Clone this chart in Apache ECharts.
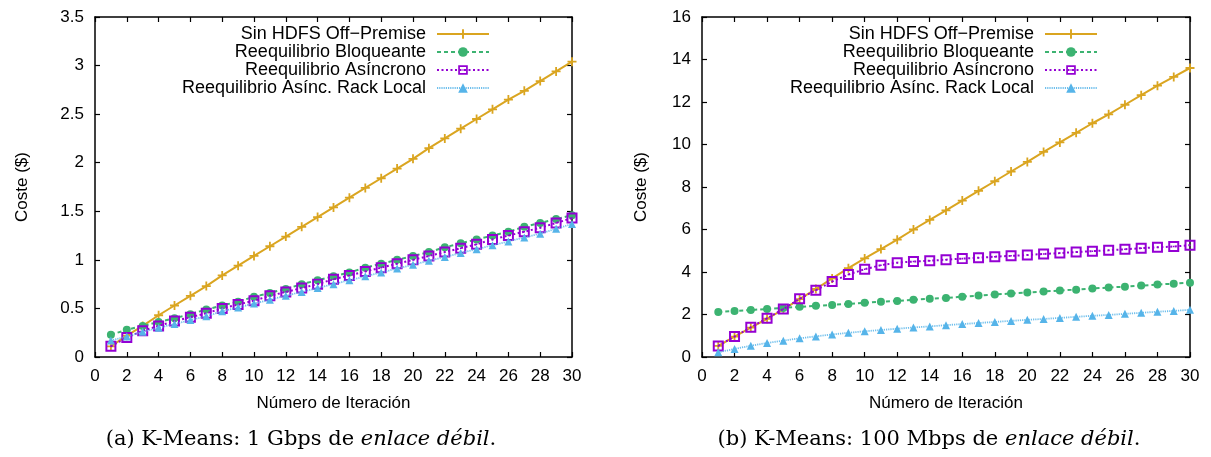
<!DOCTYPE html>
<html>
<head>
<meta charset="utf-8">
<script src="https://cdn.jsdelivr.net/npm/echarts@6/dist/echarts.min.js"></script>
<style>
html,body{margin:0;padding:0;background:#fff;}
#c{width:1211px;height:457px;}
</style>
</head>
<body>
<div id="c"></div>
<script>
const iterations = [1,2,3,4,5,6,7,8,9,10,11,12,13,14,15,16,17,18,19,20,21,22,23,24,25,26,27,28,29,30];
const seriesNames = ['Sin HDFS Off\u2212Premise','Reequilibrio Bloqueante','Reequilibrio Asíncrono','Reequilibrio Asínc. Rack Local'];

// (a) K-Means: 1 Gbps
const aSinHDFS    = [0.11,0.22,0.32,0.43,0.53,0.63,0.73,0.84,0.94,1.04,1.14,1.24,1.34,1.44,1.54,1.64,1.74,1.84,1.94,2.04,2.15,2.25,2.35,2.45,2.55,2.65,2.74,2.84,2.94,3.04];
const aBloqueante = [0.23,0.28,0.32,0.36,0.40,0.44,0.49,0.53,0.57,0.62,0.66,0.70,0.75,0.79,0.83,0.87,0.92,0.96,1.00,1.04,1.08,1.13,1.17,1.21,1.25,1.29,1.34,1.38,1.42,1.46];
const aAsincrono  = [0.11,0.20,0.27,0.32,0.37,0.41,0.45,0.50,0.54,0.58,0.63,0.67,0.71,0.75,0.80,0.84,0.88,0.92,0.96,1.00,1.04,1.08,1.12,1.16,1.21,1.25,1.29,1.33,1.38,1.43];
const aRackLocal  = [0.17,0.21,0.26,0.30,0.34,0.38,0.42,0.47,0.51,0.55,0.59,0.63,0.67,0.71,0.75,0.79,0.83,0.87,0.91,0.95,0.99,1.03,1.07,1.11,1.15,1.19,1.23,1.27,1.32,1.37];

// (b) K-Means: 100 Mbps
const bSinHDFS    = [0.52,0.96,1.38,1.80,2.24,2.72,3.20,3.70,4.18,4.64,5.08,5.52,6.00,6.45,6.90,7.36,7.82,8.27,8.73,9.18,9.65,10.10,10.55,11.00,11.42,11.87,12.32,12.77,13.18,13.60];
const bBloqueante = [2.12,2.17,2.21,2.26,2.31,2.36,2.41,2.45,2.50,2.55,2.60,2.64,2.69,2.74,2.78,2.84,2.89,2.94,2.99,3.03,3.08,3.13,3.17,3.22,3.27,3.31,3.36,3.41,3.45,3.50];
const bAsincrono  = [0.52,0.96,1.40,1.82,2.26,2.74,3.14,3.55,3.88,4.13,4.32,4.44,4.49,4.53,4.58,4.63,4.67,4.72,4.76,4.80,4.85,4.89,4.94,4.98,5.02,5.07,5.12,5.16,5.20,5.26];
const bRackLocal  = [0.22,0.38,0.53,0.66,0.77,0.88,0.97,1.06,1.14,1.21,1.27,1.33,1.39,1.44,1.50,1.55,1.60,1.65,1.70,1.75,1.79,1.84,1.89,1.94,1.98,2.03,2.08,2.13,2.17,2.22];

const xTicks = {min:0, max:30, interval:2};
const yTicksA = {min:0, max:3.5, interval:0.5};
const yTicksB = {min:0, max:16, interval:2};
const xAxisName = 'Número de Iteración';
const yAxisName = 'Coste ($)';
const captionA = ['(a) K-Means: 1 Gbps de ', 'enlace débil', '.'];
const captionB = ['(b) K-Means: 100 Mbps de ', 'enlace débil', '.'];

const FONT = "'Liberation Sans', Arial, Helvetica, sans-serif";
const colors = ['#DAA520', '#3CB371', '#9400D3', '#56B4E9'];
const plusPath = 'path://M-1,-5H1V-1H5V1H1V5H-1V1H-5V-1H-1Z';
const squarePath = 'path://M0,0H10V10H0Z M1.8,1.8V8.2H8.2V1.8Z M4.3,4.3H5.7V5.7H4.3Z';
const symbols = [plusPath, 'circle', squarePath, 'triangle'];
const symbolSizes = [9, 8, 11, 8];
const lineTypes = ['solid', [4,3], [2,2.5], [1.2,1]];

function pairs(ys){ return iterations.map((x,i)=>[x, ys[i]]); }

function axesFor(gi, yt){
  const common = {
    type:'value', gridIndex:gi, splitLine:{show:false},
    axisLine:{show:true, onZero:false, lineStyle:{color:'#000', width:1.5}},
    axisTick:{show:true, inside:true, length:5, lineStyle:{color:'#000', width:1.2}}
  };
  const xs = [
    Object.assign({}, common, xTicks, {position:'bottom',
      name:xAxisName, nameLocation:'middle', nameGap:38,
      nameTextStyle:{fontFamily:FONT, fontSize:17, color:'#000'},
      axisLabel:{fontFamily:FONT, fontSize:17, color:'#000', margin:11}}),
    Object.assign({}, common, xTicks, {position:'top', axisLabel:{show:false}})
  ];
  const ys = [
    Object.assign({}, common, yt, {position:'left',
      name:yAxisName, nameLocation:'middle', nameGap: gi===0 ? 64 : 52,
      nameTextStyle:{fontFamily:FONT, fontSize:17, color:'#000'},
      axisLabel:{fontFamily:FONT, fontSize:17, color:'#000', margin:11}}),
    Object.assign({}, common, yt, {position:'right', axisLabel:{show:false}})
  ];
  return {xs, ys};
}

const A = axesFor(0, yTicksA);
const B = axesFor(1, yTicksB);

function makeSeries(gi, datasets){
  return datasets.map((d,k)=>({
    name: seriesNames[k], type:'line', xAxisIndex: gi*2, yAxisIndex: gi*2,
    data: pairs(d), symbol: symbols[k], symbolSize: symbolSizes[k],
    clip:false, z: 2+k,
    lineStyle:{color: colors[k], width: k===3 ? 1.8 : 2, type: lineTypes[k], opacity: k===3 ? 0.85 : 1},
    itemStyle:{color: colors[k]}
  }));
}

function legendFor(rightPx){
  return {
    orient:'vertical', right: rightPx, top: 20, align:'right',
    itemWidth: 52, itemHeight: 12, itemGap: 0, selectedMode:false,
    textStyle:{fontFamily:FONT, fontSize:18, lineHeight:18, color:'#000', padding:[0,6,0,0]},
    data: seriesNames
  };
}

function caption(x, parts){
  return {
    type:'text', x:x, y:440,
    style:{
      text: '{n|' + parts[0] + '}{i|' + parts[1] + '}{n|' + parts[2] + '}',
      align:'center', verticalAlign:'middle',
      rich:{
        n:{fontFamily:"'DejaVu Serif', serif", fontSize:21, fill:'#000'},
        i:{fontFamily:"'DejaVu Serif', serif", fontSize:21, fontStyle:'italic', fill:'#000'}
      }
    }
  };
}

const chart = echarts.init(document.getElementById('c'), null, {renderer:'canvas'});
chart.setOption({
  animation:false,
  backgroundColor:'#fff',
  grid:[
    {left:95, right:1211-572, top:17, bottom:457-357},
    {left:702, right:1211-1190, top:17, bottom:457-357}
  ],
  xAxis:[A.xs[0], A.xs[1], B.xs[0], B.xs[1]],
  yAxis:[A.ys[0], A.ys[1], B.ys[0], B.ys[1]],
  legend:[legendFor(1211-495), legendFor(1211-1103)],
  series: makeSeries(0, [aSinHDFS, aBloqueante, aAsincrono, aRackLocal])
    .concat(makeSeries(1, [bSinHDFS, bBloqueante, bAsincrono, bRackLocal])),
  graphic:[caption(301, captionA), caption(929, captionB)]
});
</script>
</body>
</html>
